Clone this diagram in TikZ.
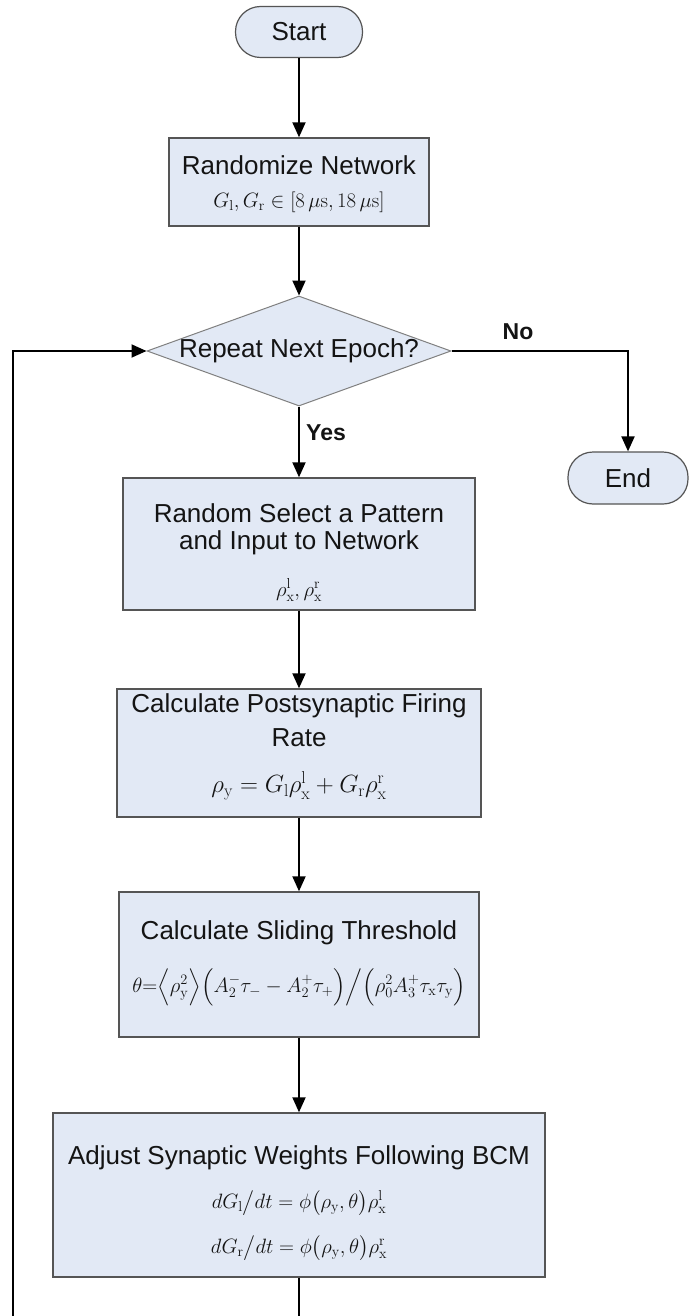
\documentclass[tikz,border=0pt]{standalone}
\usepackage[no-math]{fontspec}
\setmainfont{Liberation Sans}
\usepackage{amsmath}
\usetikzlibrary{arrows.meta,shapes.geometric}

\definecolor{boxfill}{RGB}{226,233,245}
\definecolor{boxline}{RGB}{85,85,85}
\definecolor{inkcol}{RGB}{20,20,20}

\tikzset{
  procbox/.style={draw=boxline, line width=1.4pt, fill=boxfill, inner sep=0pt},
  termbox/.style={draw=boxline, line width=1.2pt, fill=boxfill, rounded corners=25pt,
    inner sep=0pt, font=\fontsize{26}{31}\selectfont, text=inkcol},
  decbox/.style={diamond, shape aspect=2.7636, draw=boxline!75, line width=1pt,
    fill=boxfill, inner sep=0pt},
  titletext/.style={inner sep=0pt, text=inkcol, font=\fontsize{26}{31}\selectfont},
  mathtext/.style={inner sep=0pt, text=inkcol, font=\fontsize{22}{26}\selectfont},
  answer/.style={inner sep=0pt, text=inkcol, font=\fontsize{23}{27}\selectfont\bfseries},
  flowline/.style={line width=1.9pt, draw=black},
  flowarrow/.style={flowline, -{Triangle[length=15pt,width=13pt]}},
}

\begin{document}
\begin{tikzpicture}[x=1pt, y=-1pt]
  \useasboundingbox (0,0) rectangle (689,1316);
  \fill[white] (0,0) rectangle (689,1316);
  \clip (0,0) rectangle (689,1316);

  % terminators and decision
  \node[termbox, minimum width=127pt, minimum height=51pt] (start) at (299,32) {Start};
  \node[termbox, minimum width=120pt, minimum height=52pt] (end) at (628,478) {End};
  \node[decbox, minimum width=304pt, minimum height=110pt] (dec) at (299,351) {};
  \node[titletext] (decT) at (299,351) {Repeat Next Epoch?};

  % process boxes
  \node[procbox, minimum width=260pt, minimum height=88pt]  (rand)  at (299,182)   {};
  \node[procbox, minimum width=352pt, minimum height=132pt] (sel)   at (299,544)   {};
  \node[procbox, minimum width=364pt, minimum height=128pt] (post)  at (299,753)   {};
  \node[procbox, minimum width=360pt, minimum height=145pt] (slide) at (299,964.5) {};
  \node[procbox, minimum width=492pt, minimum height=164pt] (bcm)   at (299,1195)  {};

  % box contents
  \node[titletext] (randT) at (299,165) {Randomize Network};
  \node[mathtext, font=\fontsize{21}{25}\selectfont] (randM) at (299,202)
    {$G_{\mathrm{l}}, G_{\mathrm{r}} \in [8\,\mu\mathrm{s}, 18\,\mu\mathrm{s}]$};

  \node[titletext] (selT1) at (299,513) {Random Select a Pattern};
  \node[titletext] (selT2) at (299,543) {and Input to Network};
  \node[mathtext]  (selM)  at (299,590)
    {$\rho_{\mathrm{x}}^{\mathrm{l}}, \rho_{\mathrm{x}}^{\mathrm{r}}$};

  \node[titletext] (postT1) at (299,706) {Calculate Postsynaptic Firing};
  \node[titletext] (postT2) at (299,738) {Rate};
  \node[mathtext, font=\fontsize{24}{28}\selectfont] (postM) at (299,786)
    {$\rho_{\mathrm{y}} = G_{\mathrm{l}}\rho_{\mathrm{x}}^{\mathrm{l}} + G_{\mathrm{r}}\rho_{\mathrm{x}}^{\mathrm{r}}$};

  \node[titletext] (slideT) at (299,933) {Calculate Sliding Threshold};
  \node[mathtext, font=\fontsize{21}{25}\selectfont] (slideM) at (299,987)
    {$\theta{=}\Bigl\langle \rho_{\mathrm{y}}^{2} \Bigr\rangle \Bigl( A_{2}^{-}\tau_{-} - A_{2}^{+}\tau_{+} \Bigr) \Big/ \Bigl( \rho_{0}^{2} A_{3}^{+}\tau_{\mathrm{x}}\tau_{\mathrm{y}} \Bigr)$};

  \node[titletext] (bcmT)  at (299,1158) {Adjust Synaptic Weights Following BCM};
  \node[mathtext]  (bcmM1) at (299,1203)
    {$dG_{\mathrm{l}} \big/ dt = \phi\bigl( \rho_{\mathrm{y}}, \theta \bigr) \rho_{\mathrm{x}}^{\mathrm{l}}$};
  \node[mathtext]  (bcmM2) at (299,1248)
    {$dG_{\mathrm{r}} \big/ dt = \phi\bigl( \rho_{\mathrm{y}}, \theta \bigr) \rho_{\mathrm{x}}^{\mathrm{r}}$};

  % branch labels
  \node[answer] (yes) at (326,433) {Yes};
  \node[answer] (no)  at (518,332) {No};

  % main flow
  \draw[flowarrow] (start) -- (rand);
  \draw[flowarrow] (rand) -- (dec);
  \draw[flowarrow] (dec.south) -- (sel.north);
  \draw[flowarrow] (sel) -- (post);
  \draw[flowarrow] (post) -- (slide);
  \draw[flowarrow] (slide) -- (bcm);
  \draw[flowarrow] (dec.east) -| (end.north);

  % feedback loop back to the decision
  \coordinate (loopB) at (299,1330);
  \coordinate (loopL) at (13,1330);
  \draw[flowarrow] (bcm.south) -- (loopB) -- (loopL) |- (dec.west);
\end{tikzpicture}
\end{document}
